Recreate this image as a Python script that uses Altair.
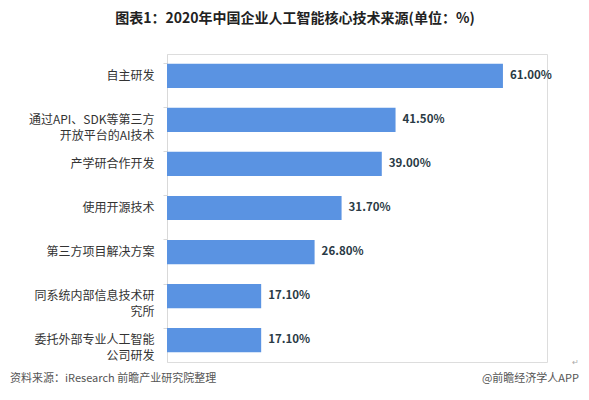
import altair as alt
import pandas as pd

categories = [
    "自主研发",
    "通过API、SDK等第三方\n开放平台的AI技术",
    "产学研合作开发",
    "使用开源技术",
    "第三方项目解决方案",
    "同系统内部信息技术研\n究所",
    "委托外部专业人工智能\n公司研发",
]
values = [61.0, 41.5, 39.0, 31.7, 26.8, 17.1, 17.1]
value_labels = ["61.00%", "41.50%", "39.00%", "31.70%", "26.80%", "17.10%", "17.10%"]

title_text = "图表1：2020年中国企业人工智能核心技术来源(单位：%)"
source_text = "资料来源：iResearch 前瞻产业研究院整理"
credit_text = "@前瞻经济学人APP"
mark_text = "↵"

FONT = "Noto Sans CJK SC"

df = pd.DataFrame({"cat": categories, "val": values, "lab": value_labels})

y_enc = alt.Y(
    "cat:N",
    sort=categories,
    scale=alt.Scale(paddingInner=0.45, paddingOuter=0.22),
    axis=alt.Axis(
        title=None,
        labelExpr="split(datum.label, '\\n')",
        labelFont=FONT,
        labelFontSize=12,
        labelColor="#333333",
        labelPadding=9,
        labelLineHeight=16,
        labelLimit=200,
        domainColor="#d9d9d9",
        tickColor="#d9d9d9",
        tickSize=4,
        bandPosition=0,
        grid=False,
    ),
)
x_enc = alt.X("val:Q", scale=alt.Scale(domain=[0, 69]), axis=None)

bars = alt.Chart(df).mark_bar(color="#5A93E2").encode(x=x_enc, y=y_enc)
texts = alt.Chart(df).mark_text(
    align="left", baseline="middle", dx=7, font=FONT, fontSize=11.5,
    fontWeight="bold", color="#2a3a45"
).encode(x=x_enc, y=y_enc, text="lab:N")

foot = pd.DataFrame({"t": [source_text]})
foot2 = pd.DataFrame({"t": [credit_text]})
foot3 = pd.DataFrame({"t": [mark_text]})
src = alt.Chart(foot).mark_text(
    align="left", baseline="middle", font=FONT, fontSize=11, color="#555555"
).encode(x=alt.value(-157), y=alt.value(325), text="t:N")
cred = alt.Chart(foot2).mark_text(
    align="right", baseline="middle", font=FONT, fontSize=11, color="#555555"
).encode(x=alt.value(412), y=alt.value(325), text="t:N")
ret = alt.Chart(foot3).mark_text(
    align="right", baseline="middle", font=FONT, fontSize=8, color="#aaaaaa"
).encode(x=alt.value(412), y=alt.value(309), text="t:N")

chart = alt.layer(bars, texts, src, cred, ret).properties(
    width=380,
    height=308,
    title=alt.TitleParams(
        title_text, font=FONT, fontSize=14, fontWeight="bold", color="#222222",
        anchor="middle", dx=-62, offset=28,
    ),
    autosize=alt.AutoSizeParams(type="none"),
    padding={"left": 159, "top": 46, "right": 34, "bottom": 26},
).configure_view(stroke=None).configure(background="white")

chart.save("out.html", embed_options={"renderer": "svg", "actions": False})
